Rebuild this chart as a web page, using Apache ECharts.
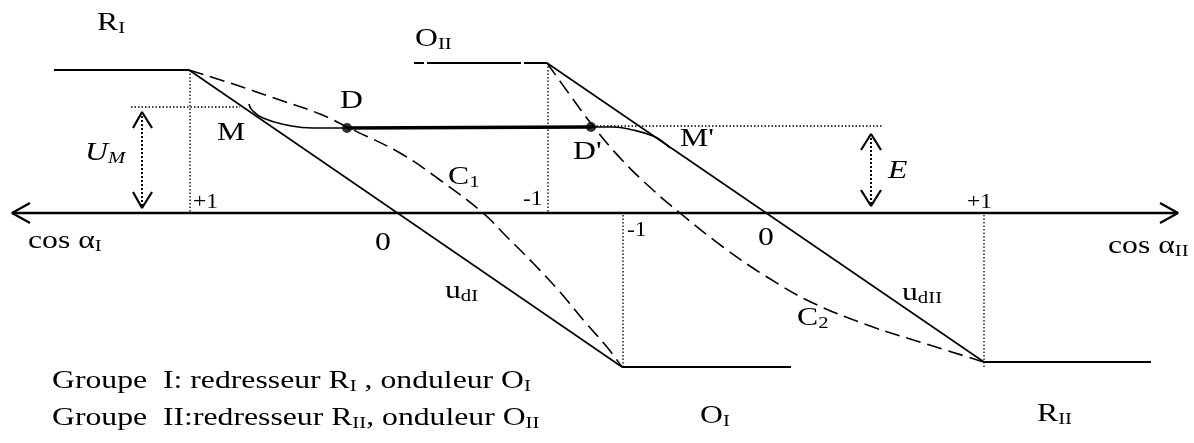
<!DOCTYPE html>
<html>
<head>
<meta charset="utf-8">
<title>Caractéristiques u_d - groupes I et II</title>
<style>
  html, body { margin: 0; padding: 0; background: #fff; }
  #main { width: 1194px; height: 443px; }
</style>
</head>
<body>
<div id="main"></div>
<script src="https://cdn.jsdelivr.net/npm/echarts@6.0.0/dist/echarts.min.js"></script>
<script>
// diagram units (x to the right, y downward), one unit ~ one pixel of the figure
const axisLine   = [[12, 213], [1178, 213]];
const arrowLeft  = [[30, 203], [12, 213], [30, 223]];
const arrowRight = [[1160, 203], [1178, 213], [1160, 223]];

const plateauRI  = [[54, 70], [189, 70]];
const lineUdI    = [[189, 70], [622, 367]];
const plateauOI  = [[622, 367], [791, 367]];
const plateauOII = [[414, 63], [547, 63]];
const lineUdII   = [[547, 63], [984, 362]];
const plateauRII = [[984, 362], [1151, 362]];

const curveC1 = [[189, 70], [230, 83], [280, 100], [320, 114], [347, 127], [400, 153], [440, 180],
                 [483, 213], [507, 237], [533, 263], [560, 292], [585, 322], [607, 347], [622, 367]];
const curveC2 = [[547, 63], [570, 95], [593, 126], [622, 160], [653, 190], [680, 213], [723, 247],
                 [767, 277], [813, 303], [873, 327], [923, 343], [984, 362]];
const curveM  = [[249, 104], [252, 110], [263, 118], [287, 125], [313, 128], [347, 128]];
const curveM2 = [[591, 127], [613, 127], [633, 130], [653, 136], [663, 142], [670, 148]];
const segDD   = [[347, 128], [591, 127]];
const pointsD = [[347, 128], [591, 127]];

const guideRI  = [[190, 70], [190, 213]];
const guideOII = [[548, 63], [548, 213]];
const guideOI  = [[623, 215], [623, 368]];
const guideRII = [[984, 215], [984, 368]];
const levelUM  = [[131, 107], [240, 107]];
const levelE   = [[593, 126], [882, 126]];

const shaftUM = [[142, 112], [142, 208]];
const headUMTop = [[133, 128], [142, 112], [152, 128]];
const headUMBot = [[133, 192], [142, 208], [152, 192]];
const shaftE = [[871, 134], [871, 206]];
const headETop = [[861, 150], [871, 134], [881, 150]];
const headEBot = [[861, 190], [871, 206], [881, 190]];

// text: [content, left, baseline, size]
const annotations = [
  ['R{s|I}', 97, 32, 'big'],
  ['O{s|II}', 415, 48, 'big'],
  ['D', 340, 110, 'big'],
  ['M', 217, 142, 'big'],
  ['{i|U}{si|M}', 85, 162, 'big'],
  ['+1', 193, 210, 'small'],
  ['C{s|1}', 448, 186, 'big'],
  ['-1', 523, 207, 'small'],
  ["D'", 573, 161, 'big'],
  ["M'", 680, 148, 'big'],
  ['{i|E}', 888, 180, 'big'],
  ['+1', 967, 210, 'small'],
  ['cos α{s|I}', 28, 250, 'big'],
  ['0', 375, 252, 'big'],
  ['-1', 627, 238, 'small'],
  ['0', 758, 247, 'big'],
  ['cos α{s|II}', 1108, 255, 'big'],
  ['u{s|dI}', 445, 300, 'big'],
  ['C{s|2}', 797, 327, 'big'],
  ['u{s|dII}', 902, 302, 'big'],
  ['Groupe  I: redresseur R{s|I} , onduleur O{s|I}', 52, 390, 'big'],
  ['Groupe  II:redresseur R{s|II}, onduleur O{s|II}', 52, 427, 'big'],
  ['O{s|I}', 700, 425, 'big'],
  ['R{s|II}', 1037, 423, 'big']
];

const SERIF = '"Liberation Serif", "Times New Roman", serif';
const SIZES = { big: 26, small: 21 };
const STRETCH = { big: 1.22, small: 1.12 };
const SUB = 17;

function path(data, width, type, smooth) {
  return {
    type: 'line', data: data, symbol: 'none', smooth: smooth || false,
    clip: false, silent: true, animation: false,
    lineStyle: { color: '#000', width: width, type: type || 'solid' }
  };
}

const chart = echarts.init(document.getElementById('main'));

chart.setOption({
  animation: false,
  grid: { left: 0, right: 0, top: 0, bottom: 0 },
  xAxis: { type: 'value', min: 0, max: 1194, show: false },
  yAxis: { type: 'value', min: 0, max: 443, inverse: true, show: false },
  series: [
    path(axisLine, 2.4),
    path(arrowLeft, 2.2),
    path(arrowRight, 2.2),
    path(plateauRI, 1.8),
    path(lineUdI, 1.6),
    path(plateauOI, 1.8),
    path(plateauOII, 1.8, [10, 3, 94, 3, 30]),
    path(lineUdII, 1.6),
    path(plateauRII, 1.8),
    path(curveC1, 1.6, [15, 7], 0.4),
    path(curveC2, 1.6, [15, 7], 0.4),
    path(curveM, 1.6, 'solid', 0.5),
    path(curveM2, 1.6, 'solid', 0.5),
    path(segDD, 3.4),
    path(guideRI, 1.3, [1.5, 2]),
    path(guideOII, 1.3, [1.5, 2]),
    path(guideOI, 1.3, [1.5, 2]),
    path(guideRII, 1.3, [1.5, 2]),
    path(levelUM, 1.4, [1.5, 2]),
    path(levelE, 1.4, [1.5, 2]),
    path(shaftUM, 2, [2, 2]),
    path(headUMTop, 2.2),
    path(headUMBot, 2.2),
    path(shaftE, 2, [2, 2]),
    path(headETop, 2.2),
    path(headEBot, 2.2),
    {
      type: 'scatter', data: pointsD, symbolSize: 10, silent: true, animation: false,
      itemStyle: { color: '#000' }
    }
  ]
});

// labels placed through the same axes
const graphics = annotations.map(function (a) {
  const size = SIZES[a[3]];
  const p = chart.convertToPixel({ gridIndex: 0 }, [a[1], a[2]]);
  const mid = p[1] - 0.3375 * size;
  return {
    type: 'text', x: p[0], y: mid, scaleX: STRETCH[a[3]], silent: true,
    style: {
      text: a[0],
      font: size + 'px ' + SERIF,
      fill: '#000',
      lineHeight: size + 1,
      align: 'left', textAlign: 'left',
      verticalAlign: 'middle', textVerticalAlign: 'middle',
      rich: {
        s: { fontSize: SUB, fontFamily: SERIF, lineHeight: 14, verticalAlign: 'bottom', fill: '#000' },
        i: { fontSize: size, fontFamily: SERIF, fontStyle: 'italic', lineHeight: size + 1, fill: '#000' },
        si: { fontSize: SUB, fontFamily: SERIF, fontStyle: 'italic', lineHeight: 14, verticalAlign: 'bottom', fill: '#000' }
      }
    }
  };
});

chart.setOption({ graphic: graphics });
</script>
</body>
</html>
